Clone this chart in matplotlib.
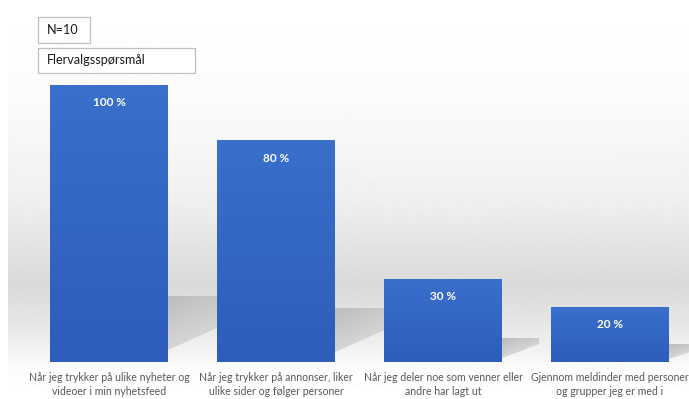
import matplotlib.pyplot as plt
import numpy as np
from matplotlib.patches import Rectangle, Polygon
from matplotlib.colors import LinearSegmentedColormap

plt.rcParams['font.family'] = ['Lato', 'DejaVu Sans']

categories = [
    "Når jeg trykker på ulike nyheter og\nvideoer i min nyhetsfeed",
    "Når jeg trykker på annonser, liker\nulike sider og følger personer",
    "Når jeg deler noe som venner eller\nandre har lagt ut",
    "Gjennom meldinder med personer\nog grupper jeg er med i",
]
values = [100, 80, 30, 20]
value_labels = ["100 %", "80 %", "30 %", "20 %"]
n_label = "N=10"
type_label = "Flervalgsspørsmål"

W, H = 689, 399
fig = plt.figure(figsize=(W / 100, H / 100), dpi=100)
ax = fig.add_axes([0, 0, 1, 1])

# pixel -> data helpers (bar centres every 167 px, 100 % = 277 px)
x0, dx = 109, 167
y0, dy = 362, 2.77
xl = (-x0 / dx, (W - x0) / dx)
yl = ((y0 - H) / dy, y0 / dy)

# soft grey band behind the bars
rows = np.arange(H)
prof_px = [0, 100, 200, 255, 285, 315, 345, 370, 399]
prof_val = [1.0, 0.985, 0.94, 0.885, 0.855, 0.89, 0.94, 0.99, 1.0]
grad = np.interp(rows, prof_px, prof_val)[:, None]
ax.imshow(grad, extent=[(8 - x0) / dx, xl[1], yl[0], yl[1]], cmap='gray',
          vmin=0, vmax=1, aspect='auto', zorder=0, interpolation='bilinear')

width = 118 / dx
xs = np.arange(len(values))

# floor shadows (darker at the top edge, fading downwards and to the right)
for x, h in zip(xs, values):
    xr = x + width / 2
    s = 0.22 * h + 2
    L = 0.1 + 0.004 * h
    poly = Polygon([(xr, 0.18 * s), (xr, s), (xr + L, s), (xr + L, 0.75 * s)],
                   closed=True, facecolor='none', edgecolor='none')
    ax.add_patch(poly)
    sg = np.linspace(0.74, 0.86, 50)[:, None] * np.ones((1, 20))
    sg = sg + np.linspace(0, 0.06, 20)[None, :]
    im = ax.imshow(sg, extent=[xr, xr + L, 0, s], cmap='gray', vmin=0, vmax=1,
                   aspect='auto', zorder=1, interpolation='bilinear')
    im.set_clip_path(poly)

bar_cmap = LinearSegmentedColormap.from_list('bar', ['#3a6fcc', '#2e5dbb'])
bars = ax.bar(xs, values, width=width, color='#3468c6', zorder=2)
for b in bars:
    bg = np.linspace(0.0, 1.0, 50)[:, None]
    im = ax.imshow(bg, extent=[b.get_x(), b.get_x() + b.get_width(), 0, b.get_height()],
                   cmap=bar_cmap, aspect='auto', zorder=3, interpolation='bilinear')
    im.set_clip_path(b)

for x, h, lab in zip(xs, values, value_labels):
    ax.text(x, h - 18 / dy, lab, ha='center', va='center', color='white',
            fontsize=8.5, fontweight='bold', zorder=4)

for x, lab in zip(xs, categories):
    ax.text(x, (y0 - 384.5) / dy, lab, ha='center', va='center', color='#595959',
            fontsize=7.6, linespacing=1.4, zorder=4)

ax.set_xlim(*xl)
ax.set_ylim(*yl)
ax.axis('off')

# info boxes in the upper left corner
for (bx, by, bw, bh), txt in [((38, 17, 52, 26), n_label), ((38, 48, 157, 25), type_label)]:
    fig.patches.append(Rectangle((bx / W, 1 - (by + bh) / H), bw / W, bh / H,
                                 transform=fig.transFigure, facecolor='white',
                                 edgecolor='#bfbfbf', linewidth=0.9, zorder=5))
    fig.text((bx + 9) / W, 1 - (by + bh / 2) / H, txt, ha='left', va='center',
             fontsize=9.1, color='#1a1a1a', zorder=6)

fig.savefig('out.png', dpi=100)
